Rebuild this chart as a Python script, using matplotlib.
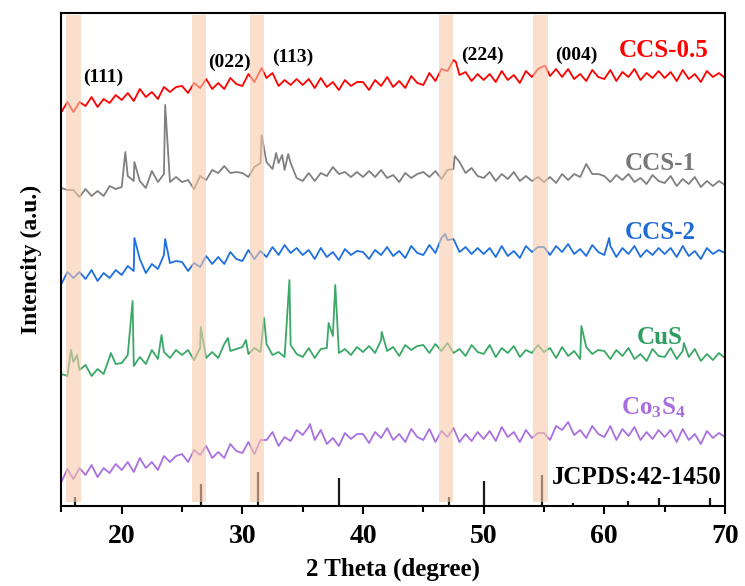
import numpy as np
import matplotlib
matplotlib.use("Agg")
import matplotlib.pyplot as plt
from matplotlib.ticker import MultipleLocator

# 2theta grid, every 0.5 degree from 15 to 70
two_theta = np.arange(15.0, 70.25, 0.5)

# intensities (a.u., stacked offsets already included), one row = 5 degrees
ccs05_y = [
    394, 404, 394, 404, 400, 409, 399, 407, 403, 411,
    406, 413, 405, 417, 409, 414, 407, 419, 414, 419,
    420, 413, 423, 418, 427, 417, 423, 417, 428, 422,
    420, 432, 424, 436, 428, 433, 420, 426, 421, 427,
    421, 427, 418, 428, 419, 424, 416, 426, 420, 424,
    424, 416, 426, 420, 429, 419, 425, 418, 430, 423,
    421, 433, 425, 437, 435, 446, 431, 434, 425, 432,
    426, 432, 424, 435, 426, 431, 423, 435, 429, 437,
    440, 430, 437, 429, 437, 427, 432, 425, 436, 429,
    427, 436, 425, 434, 429, 437, 426, 433, 428, 435,
    428, 434, 425, 436, 427, 432, 424, 435, 429, 433,
    428,
]
ccs05_peak_x = [31.6, 47.7, 55.1]
ccs05_peak_y = [438, 444, 440]

ccs1_y = [
    318, 316, 316, 309, 317, 310, 315, 310, 320, 317,
    319, 330, 325, 325, 318, 335, 324, 332, 324, 329,
    324, 326, 317, 330, 326, 336, 333, 340, 333, 334,
    333, 329, 339, 343, 344, 337, 343, 336, 343, 328,
    325, 333, 325, 333, 330, 339, 332, 334, 329, 334,
    329, 335, 329, 336, 328, 331, 324, 333, 328, 332,
    334, 329, 335, 327, 336, 337, 344, 333, 338, 330,
    328, 334, 325, 332, 327, 334, 325, 330, 325, 329,
    324, 329, 323, 332, 326, 332, 329, 342, 332, 332,
    330, 324, 331, 326, 332, 324, 328, 322, 331, 325,
    323, 330, 320, 327, 322, 329, 319, 325, 320, 325,
    321,
]
ccs1_peak_x = [20.3, 21.05, 23.6, 31.6, 32.8, 33.3, 33.8, 47.6]
ccs1_peak_y = [354, 344, 401, 371, 353, 351, 352, 350]

ccs2_y = [
    222, 234, 228, 234, 227, 236, 225, 233, 228, 236,
    231, 240, 235, 247, 233, 242, 237, 251, 243, 245,
    244, 235, 243, 239, 250, 242, 249, 242, 254, 247,
    245, 256, 247, 255, 249, 259, 251, 261, 253, 258,
    251, 256, 247, 258, 249, 254, 246, 257, 251, 255,
    254, 247, 256, 251, 259, 250, 255, 248, 260, 253,
    251, 261, 253, 268, 266, 267, 254, 259, 252, 258,
    252, 258, 249, 260, 250, 255, 248, 260, 254, 259,
    259, 251, 260, 254, 262, 252, 257, 250, 261, 254,
    251, 260, 249, 258, 252, 260, 249, 256, 251, 258,
    252, 258, 249, 260, 250, 255, 247, 258, 252, 256,
    253,
]
ccs2_peak_x = [21.05, 23.6, 46.8, 60.4]
ccs2_peak_y = [268, 267, 272, 268]

cus_y = [
    132, 130, 144, 136, 141, 130, 137, 132, 149, 142,
    143, 151, 140, 149, 142, 156, 147, 154, 148, 156,
    151, 156, 146, 158, 148, 154, 148, 162, 155, 157,
    159, 152, 158, 154, 162, 151, 154, 149, 161, 152,
    149, 158, 148, 157, 158, 170, 153, 157, 151, 159,
    154, 160, 153, 166, 155, 159, 150, 161, 156, 160,
    161, 153, 162, 155, 163, 153, 157, 150, 161, 154,
    152, 161, 149, 158, 153, 160, 149, 156, 153, 161,
    154, 158, 148, 159, 150, 155, 147, 159, 152, 156,
    155, 147, 156, 150, 158, 147, 152, 145, 157, 150,
    149, 158, 147, 155, 149, 157, 145, 152, 146, 153,
    148,
]
cus_peak_x = [15.8, 16.3, 19.1, 20.9, 23.3, 26.55, 28.8, 30.3, 31.8, 33.9,
              37.15, 37.7, 41.55, 58.1, 66.6]
cus_peak_y = [156, 151, 153, 205, 171, 179, 168, 166, 188, 226,
              183, 221, 174, 180, 163]

co3s4_y = [
    24, 37, 27, 38, 31, 41, 29, 38, 33, 42,
    36, 44, 34, 48, 38, 44, 36, 50, 44, 50,
    52, 44, 56, 51, 60, 48, 54, 48, 62, 55,
    53, 64, 52, 66, 66, 74, 60, 69, 65, 76,
    71, 79, 66, 76, 62, 68, 60, 73, 67, 72,
    72, 63, 74, 68, 78, 66, 72, 64, 77, 69,
    66, 77, 64, 75, 69, 78, 64, 72, 65, 74,
    67, 75, 65, 79, 69, 74, 64, 76, 68, 73,
    73, 66, 80, 76, 84, 71, 76, 68, 80, 72,
    69, 80, 66, 77, 70, 79, 66, 74, 67, 76,
    69, 76, 64, 77, 66, 72, 62, 75, 68, 73,
    69,
]
co3s4_peak_x = [35.6]
co3s4_peak_y = [82]

# JCPDS 42-1450 reference lines
jcpds_x = [16.1, 26.6, 31.3, 38.0, 47.1, 50.0, 54.8, 57.4, 62.0, 64.5, 68.8]
jcpds_h = [9, 22, 34, 28, 9, 25, 31, 3, 5, 8, 8]

# highlighted reflections
band_lo = [15.4, 25.8, 30.6, 46.3, 54.1]
band_hi = [16.6, 27.0, 31.8, 47.5, 55.3]
hkl_labels = ["(111)", "(022)", "(113)", "(224)", "(004)"]
hkl_x = [18.5, 28.9, 34.2, 49.9, 57.7]
hkl_y = [429, 444, 449, 451, 451]


def merge(x, y, px, py):
    xs = np.concatenate([x, px])
    ys = np.concatenate([y, py])
    order = np.argsort(xs, kind="stable")
    return xs[order], ys[order]


def main():
    plt.rcParams["font.family"] = ["Liberation Serif", "DejaVu Serif"]
    plt.rcParams["font.weight"] = "bold"
    plt.rcParams["mathtext.fontset"] = "custom"
    plt.rcParams["mathtext.rm"] = "Liberation Serif:bold"
    plt.rcParams["mathtext.it"] = "Liberation Serif:bold"
    plt.rcParams["mathtext.bf"] = "Liberation Serif:bold"

    fig = plt.figure(figsize=(7.45, 5.86), dpi=100)
    ax = fig.add_axes([0.0824, 0.1365, 0.8907, 0.8413])

    series = [
        (ccs05_y, ccs05_peak_x, ccs05_peak_y, "#ff0000"),
        (ccs1_y, ccs1_peak_x, ccs1_peak_y, "#808080"),
        (ccs2_y, ccs2_peak_x, ccs2_peak_y, "#1e6fe0"),
        (cus_y, cus_peak_x, cus_peak_y, "#3aa866"),
        (co3s4_y, co3s4_peak_x, co3s4_peak_y, "#a970e0"),
    ]
    for y, px, py, c in series:
        xs, ys = merge(two_theta, np.array(y, float), np.array(px), np.array(py, float))
        ax.plot(xs, ys, color=c, lw=1.3, zorder=2)

    ax.vlines(jcpds_x, 0, jcpds_h, color="#1a1a1a", lw=1.6, zorder=2)

    ymax = 493
    for lo, hi in zip(band_lo, band_hi):
        ax.axvspan(lo, hi, ymin=4 / ymax, ymax=491 / ymax,
                   color="#f7caac", alpha=0.6, lw=0, zorder=3)

    for lab, x, y in zip(hkl_labels, hkl_x, hkl_y):
        ax.text(x, y, lab, fontsize=14, fontweight="bold", ha="center", va="center")

    ax.text(64.95, 456, "CCS-0.5", color="#ff0000", fontsize=18, fontweight="bold", ha="center", va="center")
    ax.text(64.6, 343, "CCS-1", color="#777777", fontsize=18, fontweight="bold", ha="center", va="center")
    ax.text(64.6, 274, "CCS-2", color="#1e6bd6", fontsize=18, fontweight="bold", ha="center", va="center")
    ax.text(64.6, 169, "CuS", color="#2e9e5e", fontsize=18, fontweight="bold", ha="center", va="center")
    ax.text(64.05, 98, r"Co$_3$S$_4$", color="#a86ee0", fontsize=18, fontweight="bold", ha="center", va="center")
    ax.text(62.7, 29, "JCPDS:42-1450", color="black", fontsize=18, fontweight="bold", ha="center", va="center")

    ax.set_xlim(15, 70)
    ax.set_ylim(0, ymax)
    ax.xaxis.set_major_locator(MultipleLocator(10))
    ax.xaxis.set_minor_locator(MultipleLocator(5))
    ax.set_yticks([])
    ax.tick_params(axis="x", which="major", direction="out", length=6, width=1.5, labelsize=20, pad=7)
    ax.tick_params(axis="x", which="minor", direction="out", length=4, width=1.5)
    for s in ax.spines.values():
        s.set_linewidth(1.5)

    ax.set_xlabel("2 Theta (degree)", fontsize=18, fontweight="bold", labelpad=6)
    ax.set_ylabel("Intencity (a.u.)", fontsize=17, fontweight="bold", labelpad=14)

    fig.savefig("out.png", dpi=100)


if __name__ == "__main__":
    main()
